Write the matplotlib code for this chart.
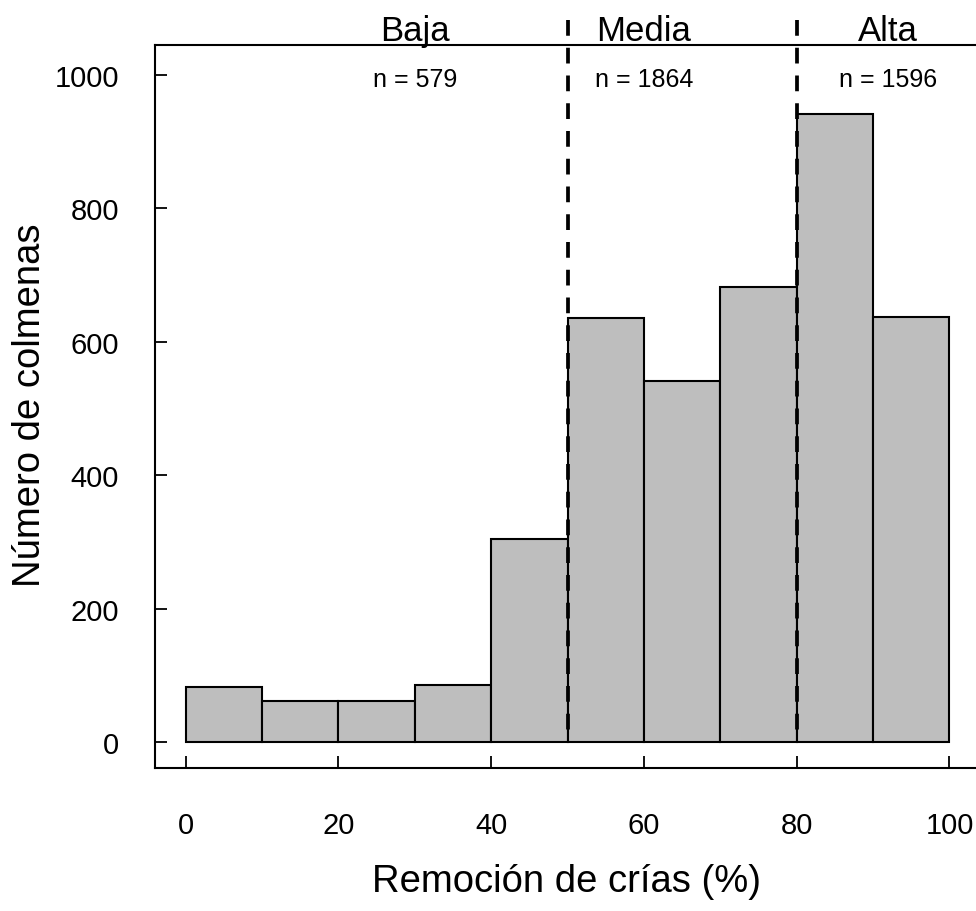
import matplotlib
matplotlib.use("Agg")
import matplotlib.pyplot as plt
import numpy as np

matplotlib.rcParams.update({'font.family': 'Liberation Sans'})

# histogram data
bin_edges = [0, 10, 20, 30, 40, 50, 60, 70, 80, 90, 100]
counts = [82, 61, 61, 86, 304, 635, 541, 682, 941, 637]

cut_points = [50, 80]
group_names = ["Baja", "Media", "Alta"]
group_n = ["n = 579", "n = 1864", "n = 1596"]
group_x = [30, 60, 92]

xticks = [0, 20, 40, 60, 80, 100]
yticks = [0, 200, 400, 600, 800, 1000]

W, H = 976, 912
fig = plt.figure(figsize=(W / 100, H / 100), dpi=100)
# plot box in pixels: left 155, right 980 (cut off), top 46, bottom 769
ax = fig.add_axes([155 / W, (H - 769) / H, (980 - 155) / W, (769 - 46) / H])

left = np.array(bin_edges[:-1])
widths = np.diff(bin_edges)
ax.bar(left, counts, width=widths, align='edge', color='#bebebe',
       edgecolor='black', linewidth=1.5, zorder=2)

# dashed cut lines, drawn top-down so a full dash starts at the top
for c in cut_points:
    ax.plot([c, c], [1082, 0], color='black', lw=2.7, clip_on=False,
            dashes=(4.2, 3.2), zorder=3)

for name, n, gx in zip(group_names, group_n, group_x):
    ax.text(gx, 1053, name, ha='center', va='baseline', fontsize=25,
            clip_on=False)
    ax.text(gx, 983, n, ha='center', va='baseline', fontsize=18)

ax.set_xlim(-4, 104)
ax.set_ylim(-39, 1045)
ax.set_xticks(xticks)
ax.set_yticks(yticks)
ax.tick_params(axis='both', direction='in', length=8.5, width=1.3,
               labelsize=21, color='black')
ax.tick_params(axis='x', pad=31)
ax.tick_params(axis='y', pad=26)
for s in ax.spines.values():
    s.set_linewidth(1.5)

fig.text(567 / W, 1 - 882 / H, "Remoción de crías (%)", ha='center',
         va='center', fontsize=27.5)
fig.text(30 / W, 1 - 405 / H, "Número de colmenas", ha='center',
         va='center', rotation=90, fontsize=27.5)

fig.savefig("out.png", dpi=100)
